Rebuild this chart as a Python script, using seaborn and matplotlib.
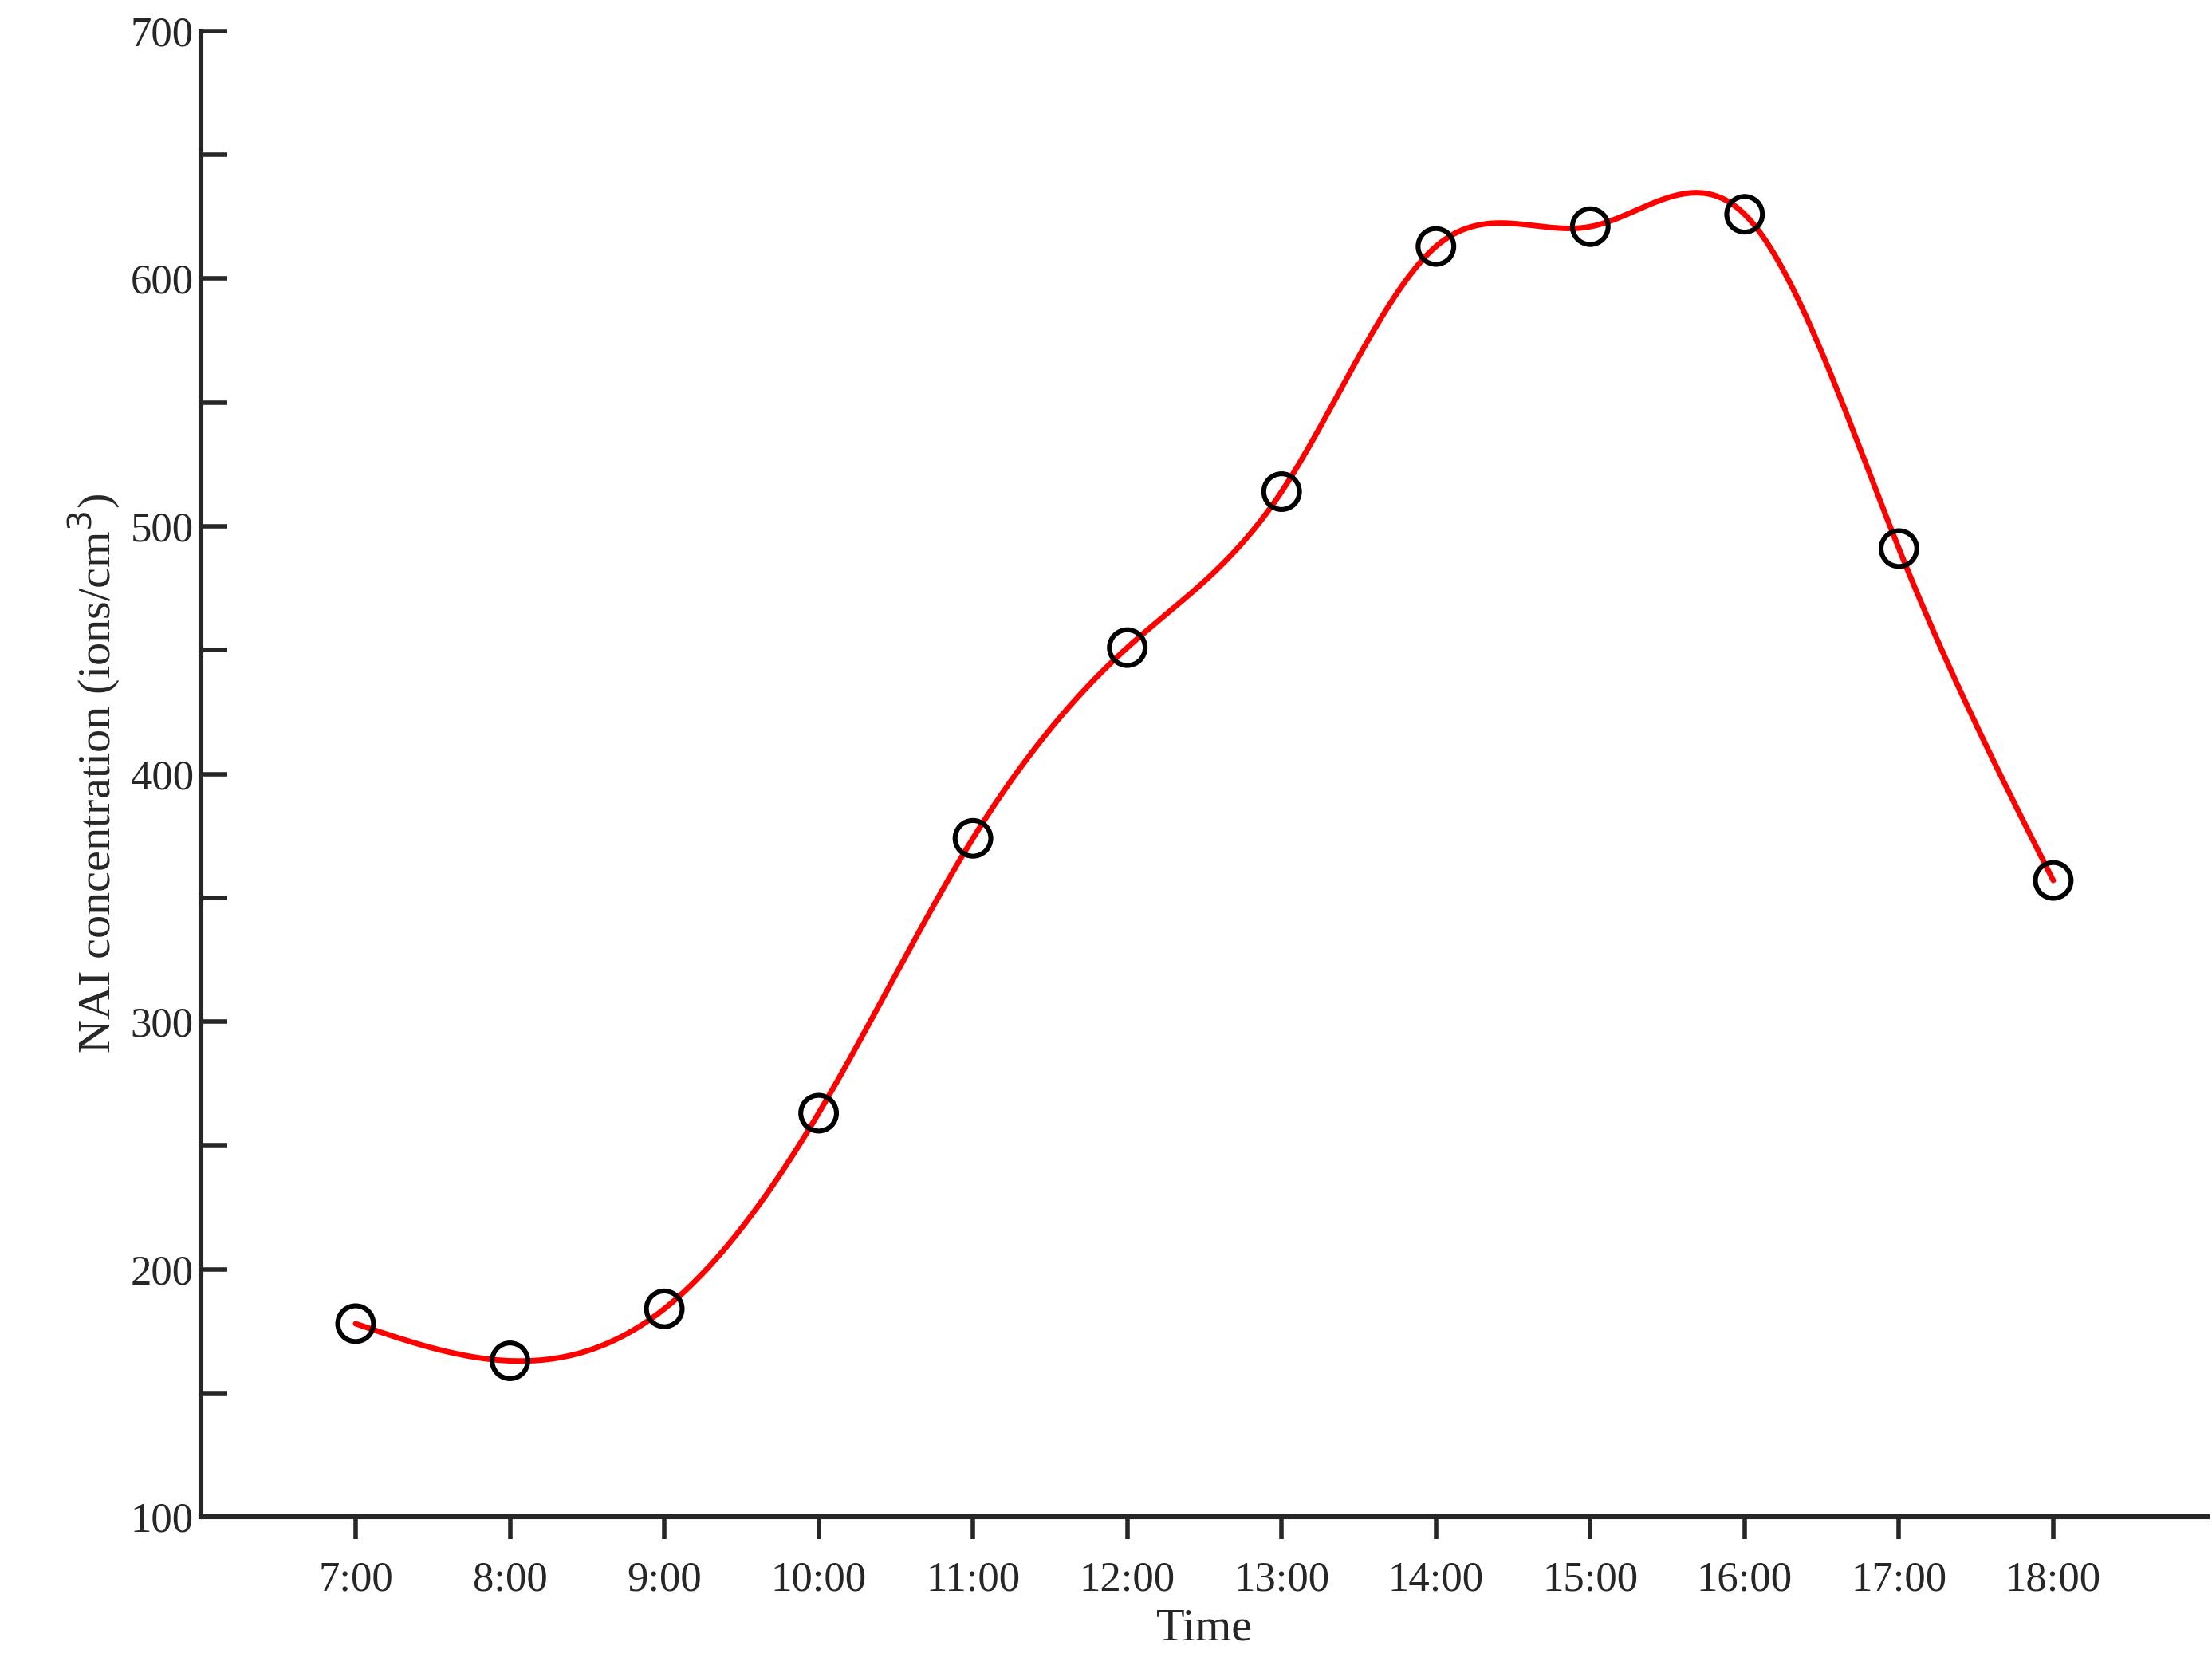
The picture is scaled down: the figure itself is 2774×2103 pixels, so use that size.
import numpy as np
import seaborn as sns
import matplotlib.pyplot as plt

times = ['7:00', '8:00', '9:00', '10:00', '11:00', '12:00',
         '13:00', '14:00', '15:00', '16:00', '17:00', '18:00']
nai = [178, 163, 184, 263, 374, 451, 514, 613, 621, 626, 491, 357]


def natural_spline(x, y, n=400):
    # plain natural cubic spline, only used to draw the smooth line
    x = np.asarray(x, float)
    y = np.asarray(y, float)
    k = len(x)
    h = np.diff(x)
    A = np.zeros((k, k))
    b = np.zeros(k)
    A[0, 0] = A[-1, -1] = 1
    for i in range(1, k - 1):
        A[i, i - 1] = h[i - 1]
        A[i, i] = 2 * (h[i - 1] + h[i])
        A[i, i + 1] = h[i]
        b[i] = 6 * ((y[i + 1] - y[i]) / h[i] - (y[i] - y[i - 1]) / h[i - 1])
    m = np.linalg.solve(A, b)
    xs = np.linspace(x[0], x[-1], n)
    idx = np.clip(np.searchsorted(x, xs) - 1, 0, k - 2)
    t = xs - x[idx]
    hi = h[idx]
    a = (m[idx + 1] - m[idx]) / (6 * hi)
    c = (y[idx + 1] - y[idx]) / hi - hi * (2 * m[idx] + m[idx + 1]) / 6
    ys = y[idx] + c * t + m[idx] / 2 * t ** 2 + a * t ** 3
    return xs, ys


sns.set_style("ticks")
plt.rcParams['font.family'] = ['Liberation Serif', 'DejaVu Serif']

fig = plt.figure(figsize=(13.87, 10.515), dpi=200)
ax = fig.add_axes([0.091, 0.0955, 0.907, 0.886])

pos = np.arange(len(times))
xs, ys = natural_spline(pos, nai)
sns.lineplot(x=xs, y=ys, ax=ax, color='red', linewidth=2.5, sort=False)
sns.scatterplot(x=pos, y=nai, ax=ax, s=260, facecolor='none',
                edgecolor='black', linewidth=2.2, zorder=3)

ax.set_xlim(-1, 12)
ax.set_ylim(100, 700)
ax.set_xticks(pos)
ax.set_xticklabels(times)
ax.set_yticks(range(100, 701, 100))
ax.set_yticks(range(150, 700, 100), minor=True)
ax.tick_params(axis='y', which='both', direction='in', length=12, width=2, labelsize=19)
ax.tick_params(axis='x', direction='out', length=10, width=2, labelsize=19, pad=10)
for s in ['top', 'right']:
    ax.spines[s].set_visible(False)
for s in ['left', 'bottom']:
    ax.spines[s].set_linewidth(2.2)

ax.set_xlabel('Time', fontsize=21)
ax.set_ylabel('NAI concentration (ions/cm$^3$)', fontsize=21)

fig.savefig('out.png', dpi=200)
